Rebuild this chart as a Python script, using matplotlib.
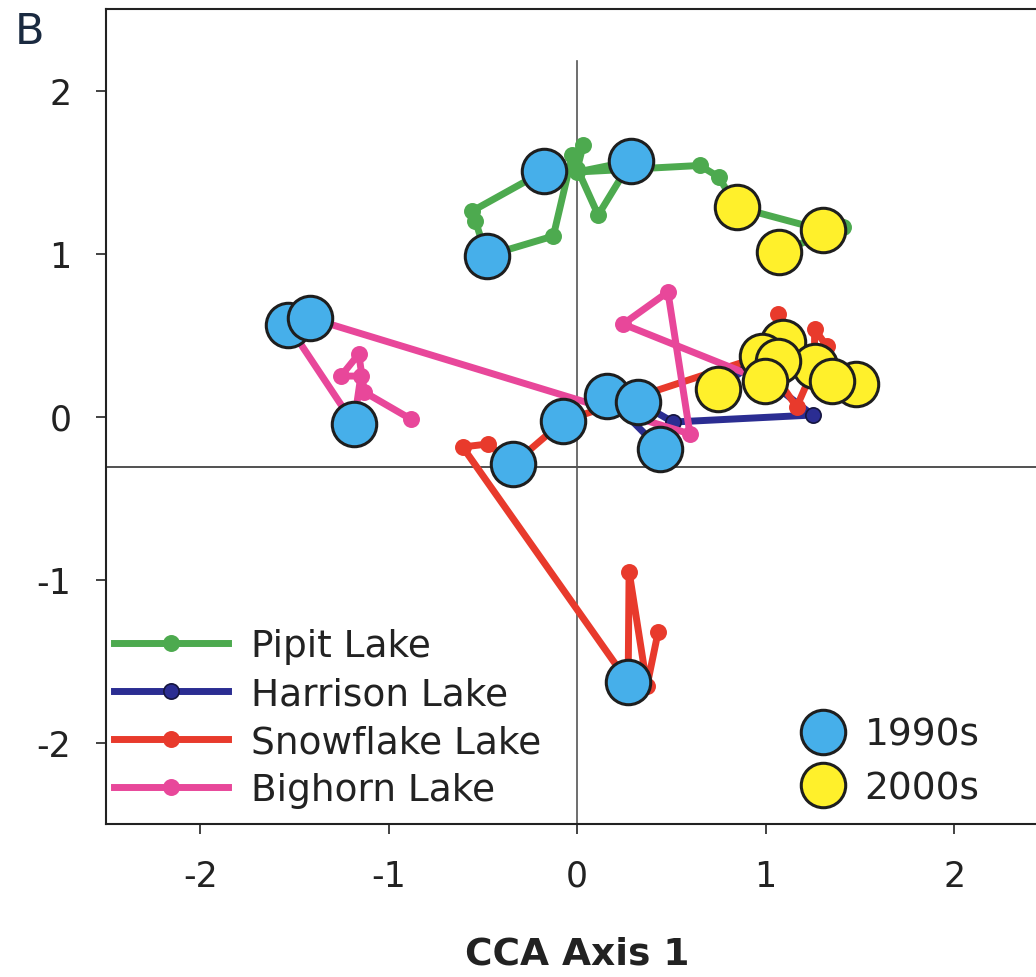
import matplotlib
matplotlib.use("Agg")
import matplotlib.pyplot as plt
from matplotlib.lines import Line2D

plt.rcParams['font.family'] = ['DejaVu Sans']
plt.rcParams['axes.unicode_minus'] = False

# CCA site scores, one trajectory per lake, in sampling order.
# dec: None = single year, '1990s' / '2000s' = decadal sample (big circle)
pipit_x = [-0.175, -0.556, -0.540, -0.481, -0.127, -0.026, 0.032, 0.000, 0.111, 0.286, 0.000, 0.650, 0.750, 0.847, 1.302, 1.410, 1.069]
pipit_y = [1.506, 1.261, 1.199, 0.985, 1.107, 1.604, 1.666, 1.520, 1.236, 1.567, 1.500, 1.540, 1.470, 1.285, 1.144, 1.160, 1.009]
pipit_dec = ['1990s', None, None, '1990s', None, None, None, None, None, '1990s', None, None, None, '2000s', '2000s', None, '2000s']

harrison_x = [0.439, 0.159, 0.323, 0.508, 1.249, 0.900, 0.746, 1.090, 1.481]
harrison_y = [-0.199, 0.126, 0.089, -0.034, 0.009, 0.320, 0.169, 0.457, 0.199]
harrison_dec = ['1990s', '1990s', '1990s', None, None, None, '2000s', '2000s', '2000s']

snowflake_x = [0.429, 0.370, 0.275, 0.270, -0.608, -0.476, -0.339, -0.074, 0.979, 1.164, 1.259, 1.259, 1.323, 1.354, 1.063, 1.063]
snowflake_y = [-1.322, -1.653, -0.951, -1.629, -0.187, -0.169, -0.291, -0.028, 0.371, 0.058, 0.310, 0.537, 0.433, 0.218, 0.629, 0.340]
snowflake_dec = [None, None, None, '1990s', None, None, '1990s', '1990s', '2000s', None, '2000s', None, None, '2000s', None, '2000s']

bighorn_x = [-0.884, -1.130, -1.159, -1.254, -1.148, -1.185, -1.534, -1.418, 0.598, 0.481, 0.243, 0.995]
bighorn_y = [-0.015, 0.150, 0.383, 0.248, 0.248, -0.046, 0.561, 0.604, -0.107, 0.764, 0.567, 0.218]
bighorn_dec = [None, None, None, None, None, '1990s', '1990s', '1990s', None, None, None, '2000s']

lake_names = ['Pipit Lake', 'Harrison Lake', 'Snowflake Lake', 'Bighorn Lake']
decades = ['1990s', '2000s']

x_ticks = [-2, -1, 0, 1, 2]
y_ticks = [-2, -1, 0, 1, 2]
hline_y = -0.31      # horizontal reference line
vline_top = 2.18     # vertical reference line stops here

lake_colors = ['#4DAA4F', '#2B2D92', '#E83A2C', '#E8479A']
dot_edges = ['#4DAA4F', '#15153F', '#E83A2C', '#E8479A']
decade_colors = {'1990s': '#46AFEA', '2000s': '#FFF02B'}
edge = '#1E1E1E'
text_col = '#222222'

lakes = [
    (pipit_x, pipit_y, pipit_dec),
    (harrison_x, harrison_y, harrison_dec),
    (snowflake_x, snowflake_y, snowflake_dec),
    (bighorn_x, bighorn_y, bighorn_dec),
]

fig = plt.figure(figsize=(10.36, 9.78), dpi=100)
ax = fig.add_axes([106 / 1036, 153 / 978, 942.5 / 1036, 815 / 978])
ax.set_xlim(-2.5, 2.5)
ax.set_ylim(-2.5, 2.5)

# reference lines
ax.axhline(hline_y, color='#333333', lw=1.2, zorder=1)
ax.axvline(0, ymin=0, ymax=(vline_top + 2.5) / 5.0, color='#555555', lw=1.2, zorder=1)

# trajectories
for (xs, ys, dec), col, mec in zip(lakes, lake_colors, dot_edges):
    ax.plot(xs, ys, color=col, lw=5, marker='o', ms=11, mfc=col, mec=mec,
            mew=1.2, zorder=3, solid_capstyle='round')

# decadal samples on top
for xs, ys, dec in lakes:
    for d in decades:
        px = [x for x, k in zip(xs, dec) if k == d]
        py = [y for y, k in zip(ys, dec) if k == d]
        ax.plot(px, py, ls='none', marker='o', ms=32, mfc=decade_colors[d],
                mec=edge, mew=2.2, zorder=5)

# axes styling
for s in ['left', 'top', 'bottom']:
    ax.spines[s].set_linewidth(1.5)
    ax.spines[s].set_color(text_col)
ax.spines['right'].set_visible(False)
ax.set_xticks(x_ticks)
ax.set_yticks(y_ticks)
ax.set_xticklabels([str(t) for t in x_ticks])
ax.set_yticklabels([str(t) for t in y_ticks])
ax.tick_params(direction='out', length=7, width=1.2, pad=18,
               labelsize=25, colors=text_col)
ax.set_xlabel('CCA Axis 1', fontsize=27, fontweight='bold', labelpad=31, color=text_col)

fig.text(15 / 1036, 1 - 32 / 978, 'B', fontsize=31, color='#1A2A40', va='center', ha='left')

# legends
lake_handles = [Line2D([], [], color=c, lw=5, marker='o', ms=11, mfc=c, mec=m, mew=1.2)
                for c, m in zip(lake_colors, dot_edges)]
leg1 = ax.legend(lake_handles, lake_names, loc='upper left',
                 bbox_to_anchor=(114 / 1036, 1 - 629 / 978), bbox_transform=fig.transFigure,
                 frameon=False, fontsize=27, handlelength=3.05, handletextpad=0.6,
                 labelspacing=0.32, borderpad=0, borderaxespad=0, numpoints=1,
                 labelcolor=text_col)
ax.add_artist(leg1)

dec_handles = [Line2D([], [], ls='none', marker='o', ms=32, mfc=decade_colors[d],
                      mec=edge, mew=2.2) for d in decades]
ax.legend(dec_handles, decades, loc='upper left',
          bbox_to_anchor=(800 / 1036, 1 - 718 / 978), bbox_transform=fig.transFigure,
          frameon=False, fontsize=27, handlelength=1.2, handletextpad=0.52,
          labelspacing=0.46, borderpad=0, borderaxespad=0, numpoints=1,
          labelcolor=text_col)

fig.savefig('out.png', dpi=100)
